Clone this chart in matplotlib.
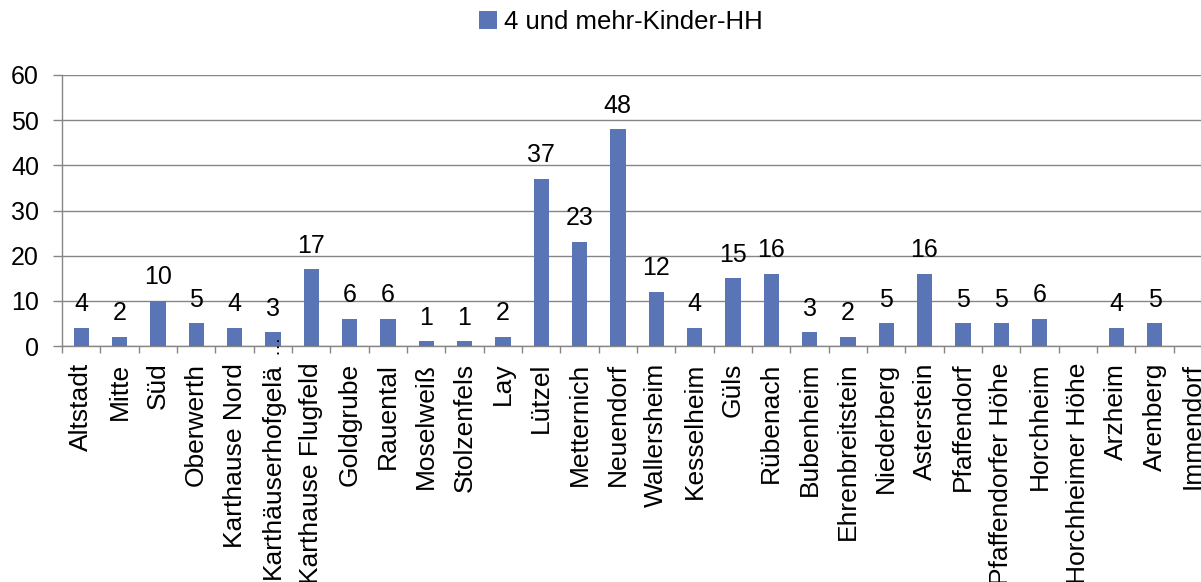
import matplotlib
matplotlib.use("Agg")
import matplotlib.pyplot as plt
import numpy as np

categories = ["Altstadt", "Mitte", "Süd", "Oberwerth", "Karthause Nord",
              "Karthäuserhofgelä", "Karthause Flugfeld", "Goldgrube", "Rauental",
              "Moselweiß", "Stolzenfels", "Lay", "Lützel", "Metternich", "Neuendorf",
              "Wallersheim", "Kesselheim", "Güls", "Rübenach", "Bubenheim",
              "Ehrenbreitstein", "Niederberg", "Asterstein", "Pfaffendorf",
              "Pfaffendorfer Höhe", "Horchheim", "Horchheimer Höhe", "Arzheim",
              "Arenberg", "Immendorf"]
values = [4, 2, 10, 5, 4, 3, 17, 6, 6, 1, 1, 2, 37, 23, 48, 12, 4, 15, 16, 3,
          2, 5, 16, 5, 5, 6, np.nan, 4, 5, np.nan]
series_name = "4 und mehr-Kinder-HH"
yticks = [0, 10, 20, 30, 40, 50, 60]
truncated_index = 5

plt.rcParams['font.family'] = ['Liberation Sans', 'DejaVu Sans']

W, H = 1201, 582
fig = plt.figure(figsize=(W / 100, H / 100), dpi=100)
ax = fig.add_axes([62 / W, (H - 346) / H, 1150 / W, 271 / H])

bar_color = '#5a75b6'
grid_color = '#868686'
x = np.arange(len(categories))
bars = ax.bar(x, np.nan_to_num(values), width=0.4, color=bar_color, zorder=3,
              label=series_name)

for xi, v in zip(x, values):
    if not np.isnan(v):
        ax.annotate(f"{int(v)}", (xi, v), xytext=(0, 12), textcoords='offset points',
                    ha='center', va='baseline', fontsize=18, color='#000000')

ax.set_xlim(-0.5, len(categories) - 0.5)
ax.set_ylim(0, 60)
ax.set_yticks(yticks)
ax.set_yticklabels([str(t) for t in yticks], fontsize=18)
ax.yaxis.grid(True, color=grid_color, linewidth=1.0, zorder=0)
ax.tick_params(axis='y', length=6.5, width=1.0, color=grid_color, pad=10)

ax.set_xticks(x)
ax.set_xticklabels(categories, rotation=90, fontsize=19)
ax.tick_params(axis='x', which='major', length=0, pad=12)
ax.set_xticks(np.arange(-0.5, len(categories), 1), minor=True)
ax.tick_params(axis='x', which='minor', length=5, width=1.0, color=grid_color)

# ellipsis of the truncated category label, drawn just above the label
ax.annotate("…", xy=(truncated_index, 0), xycoords=('data', 'axes fraction'),
            xytext=(0, 8), textcoords='offset points', rotation=90,
            ha='center', va='top', fontsize=14, color='#000000', annotation_clip=False)

for s in ['top', 'right']:
    ax.spines[s].set_visible(False)
for s in ['left', 'bottom']:
    ax.spines[s].set_color(grid_color)
    ax.spines[s].set_linewidth(1.0)
ax.set_axisbelow(True)

fig.legend(handles=[bars], labels=[series_name], loc='center',
           bbox_to_anchor=(621 / W, 1 - 22 / H), frameon=False, fontsize=18.5,
           handlelength=0.7, handleheight=0.7, handletextpad=0.3)

fig.savefig("out.png", dpi=100)
